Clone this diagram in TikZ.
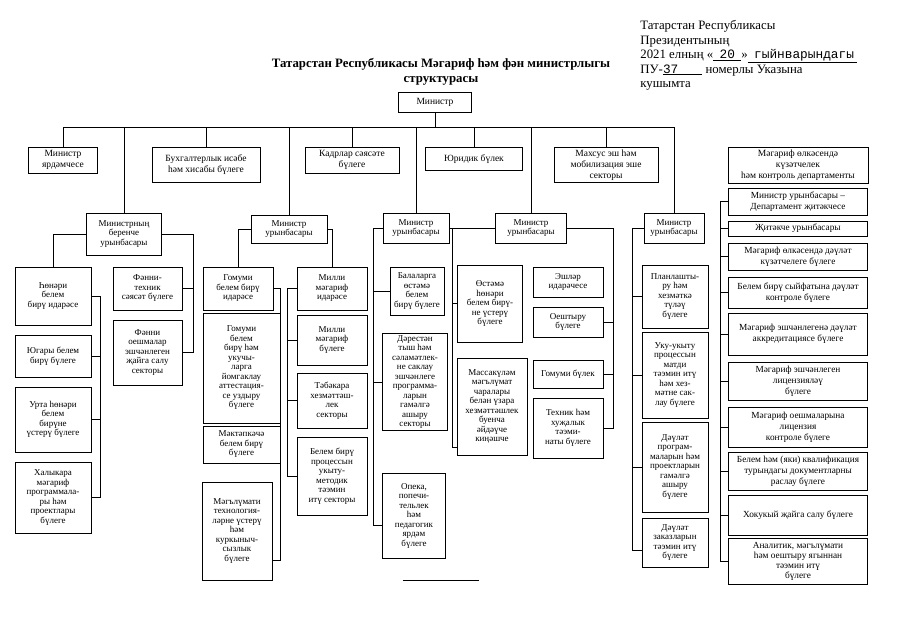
\documentclass[tikz,border=0pt]{standalone}
\usepackage{fontspec}
\setmainfont{Liberation Serif}
\newfontfamily\monofont{Liberation Mono}
\usetikzlibrary{positioning, calc}

\tikzset{
  blk/.style={draw, align=center, inner sep=1pt, font=\fontsize{9}{9.5}\selectfont},
  topblk/.style={blk, font=\fontsize{9.5}{11}\selectfont},
  depblk/.style={blk, font=\fontsize{9.3}{10.8}\selectfont, minimum width=139},
}

\begin{document}
\begin{tikzpicture}[x=1pt, y=-1pt, line width=0.85pt]
\useasboundingbox (0,0) rectangle (905,640);

% heading texts
\node[anchor=north west, align=left, inner sep=0pt, font=\fontsize{12.8}{14.5}\selectfont] (ukaz) at (640,20)
  {Татарстан Республикасы\\Президентының\\2021 елның «\underline{\ \ {\monofont 20}\ \ }»\underline{\ \ {\monofont гыйнварындагы}\ }\\ПУ-\underline{{\monofont 37}\hspace{24pt}} номерлы Указына\\кушымта};
\node[align=center, font=\bfseries\fontsize{12.8}{15.5}\selectfont] (title) at (441,72)
  {Татарстан Республикасы Мәгариф һәм фән министрлыгы\\структурасы};

\node[topblk, minimum width=73, minimum height=20] (min) at (435,102) {Министр};

% first row
\node[topblk, minimum width=69, minimum height=26] (yard) at (63,160) {Министр\\ярдәмчесе};
\node[topblk, minimum width=108, minimum height=35] (buh) at (206,165) {Бухгалтерлык исәбе\\һәм хисабы бүлеге};
\node[topblk, minimum width=94, minimum height=26] (kadr) at (352,160) {Кадрлар сәясәте\\бүлеге};
\node[topblk, minimum width=97, minimum height=23] (jur) at (474,159) {Юридик бүлек};
\node[topblk, minimum width=104, minimum height=35] (mahs) at (606,165) {Махсус эш һәм\\мобилизация эше\\секторы};
\node[topblk, minimum width=140, minimum height=36] (dept) at (798,165) {Мәгариф өлкәсендә\\күзәтчелек\\һәм контроль департаменты};

% deputies
\node[blk, minimum width=75, minimum height=42] (dep1) at (124,234) {Министрның\\беренче\\урынбасары};
\node[blk, minimum width=76, minimum height=28] (dep2) at (289,229) {Министр\\урынбасары};
\node[blk, minimum width=66, minimum height=30] (dep3) at (416,228) {Министр\\урынбасары};
\node[blk, minimum width=71, minimum height=30] (dep4) at (531,228) {Министр\\урынбасары};
\node[blk, minimum width=60, minimum height=30] (dep5) at (674,228) {Министр\\урынбасары};

\coordinate (bus) at (0,127);
\draw (min.south) -- (min.south |- bus);
\draw (yard.north) |- (dep5.north |- bus) -- (dep5.north);
\foreach \n in {buh,kadr,jur,mahs,dep1,dep2,dep3,dep4}
  \draw (\n.north) -- (\n.north |- bus);

% first deputy
\node[blk, minimum width=76, minimum height=58] (hon) at (53,296) {Һөнәри\\белем\\бирү идарәсе};
\node[blk, minimum width=76, minimum height=42] (yug) at (53,356) {Югары белем\\бирү бүлеге};
\node[blk, minimum width=76, minimum height=65] (urta) at (53,419.5) {Урта һөнәри\\белем\\бирүне\\үстерү бүлеге};
\node[blk, minimum width=76, minimum height=71] (hal) at (53,497.5) {Халыкара\\мәгариф\\программала-\\ры һәм\\проектлары\\бүлеге};
\node[blk, minimum width=69, minimum height=43] (ft) at (147.5,288.5) {Фәнни-\\техник\\сәясәт бүлеге};
\node[blk, minimum width=69, minimum height=65] (fo) at (147.5,352.5) {Фәнни\\оешмалар\\эшчәнлеген\\җайга салу\\секторы};

\coordinate (br1) at (100,0);
\coordinate (br2) at (193,0);
\draw (dep1.west) -| (hon.north);
\draw (hon.east) -- (hon.east -| br1) |- (hal.east);
\foreach \n in {yug,urta} \draw (\n.east) -- (\n.east -| br1);
\draw (dep1.east) -- (dep1.east -| br2) |- (fo.east);
\draw (ft.east) -- (ft.east -| br2);

% second deputy
\node[blk, minimum width=70, minimum height=43] (gom) at (238,288.5) {Гомуми\\белем бирү\\идарәсе};
\node[blk, minimum width=77, minimum height=110] (gomb) at (241.5,368) {Гомуми\\белем\\бирү һәм\\укучы-\\ларга\\йомгаклау\\аттестация-\\се уздыру\\бүлеге};
\node[blk, minimum width=77, minimum height=37] (mek) at (241.5,444.5) {Мәктәпкәчә\\белем бирү\\бүлеге};
\node[blk, minimum width=70, minimum height=98] (mgl) at (237,531) {Мәгълүмати\\технология-\\ләрне үстерү\\һәм\\куркыныч-\\сызлык\\бүлеге};
\node[blk, minimum width=70, minimum height=43] (mil) at (332,288.5) {Милли\\мәгариф\\идарәсе};
\node[blk, minimum width=70, minimum height=50] (milb) at (332,340) {Милли\\мәгариф\\бүлеге};
\node[blk, minimum width=70, minimum height=55] (teb) at (332,400.5) {Тәбәкара\\хезмәттәш-\\лек\\секторы};
\node[blk, minimum width=70, minimum height=78] (bbp) at (332,476) {Белем бирү\\процессын\\укыту-\\методик\\тәэмин\\итү секторы};

\coordinate (br3) at (280,0);
\coordinate (br4) at (287,0);
\draw (dep2.west) -| (gom.north);
\draw (gom.east) -- (gom.east -| br3) |- ([yshift=-29]mgl.east);
\draw (dep2.east) -| (mil.north);
\draw (mil.west) -- (mil.west -| br4) |- (bbp.west);
\foreach \n in {milb,teb} \draw (\n.west) -- (\n.west -| br4);

% third deputy
\node[blk, minimum width=54, minimum height=48] (bal) at (417,291) {Балаларга\\өстәмә\\белем\\бирү бүлеге};
\node[blk, minimum width=65, minimum height=97] (der) at (415,382) {Дәрестән\\тыш һәм\\сәламәтлек-\\не саклау\\эшчәнлеге\\программа-\\ларын\\гамәлгә\\ашыру\\секторы};
\node[blk, minimum width=63, minimum height=85] (opk) at (414,515.5) {Опека,\\попечи-\\тельлек\\һәм\\педагогик\\ярдәм\\бүлеге};

\coordinate (br5) at (373,0);
\draw (dep3.west) -- (dep3.west -| br5) |- ([yshift=-10]opk.west);
\foreach \n in {bal,der} \draw (\n.west) -- (\n.west -| br5);

% fourth deputy
\node[blk, minimum width=65, minimum height=77] (ost) at (490,303.5) {Өстәмә\\һөнәри\\белем бирү-\\не үстерү\\бүлеге};
\node[blk, minimum width=70, minimum height=97] (mas) at (492,406.5) {Массакүләм\\мәгълүмат\\чаралары\\белән үзара\\хезмәттәшлек\\буенча\\әйдәүче\\киңәшче};
\node[blk, minimum width=70, minimum height=30] (esh) at (568,282) {Эшләр\\идарәчесе};
\node[blk, minimum width=70, minimum height=30] (oes) at (568,322) {Оештыру\\бүлеге};
\node[blk, minimum width=70, minimum height=28] (gbl) at (568,374) {Гомуми бүлек};
\node[blk, minimum width=70, minimum height=60] (teh) at (568,428) {Техник һәм\\хуҗалык\\тәэми-\\наты бүлеге};

\coordinate (br6) at (452,228);
\coordinate (br7) at (613,0);
\draw (dep3.east) -- (dep4.west);
\draw (br6) |- ([yshift=-41]mas.west);
\draw (ost.west) -- (ost.west -| br6);
\draw (dep4.east) -- (dep4.east -| br7) |- (teh.east);
\foreach \n in {oes,gbl} \draw (\n.east) -- (\n.east -| br7);

% fifth deputy
\node[blk, minimum width=66, minimum height=63] (pln) at (675,296.5) {Планлашты-\\ру һәм\\хезмәткә\\түләү\\бүлеге};
\node[blk, minimum width=66, minimum height=86] (uku) at (675,375) {Уку-укыту\\процессын\\матди\\тәэмин итү\\һәм хез-\\мәтне сак-\\лау бүлеге};
\node[blk, minimum width=66, minimum height=90] (dpr) at (675,467) {Дәүләт\\програм-\\маларын һәм\\проектларын\\гамәлгә\\ашыру\\бүлеге};
\node[blk, minimum width=66, minimum height=49] (dzk) at (675,542.5) {Дәүләт\\заказларын\\тәэмин итү\\бүлеге};

\coordinate (br8) at (632,0);
\draw (dep5.west) -- (dep5.west -| br8) |- ([yshift=-8]dzk.west);
\foreach \n in {pln,uku,dpr} \draw (\n.west) -- (\n.west -| br8);

% department column
\node[depblk, minimum height=27] (r1) at (798,201.5) {Министр урынбасары –\\Департамент җитәкчесе};
\node[depblk, minimum height=15] (r2) at (798,228.5) {Җитәкче урынбасары};
\node[depblk, minimum height=27] (r3) at (798,256.5) {Мәгариф өлкәсендә дәүләт\\күзәтчелеге бүлеге};
\node[depblk, minimum height=31] (r4) at (798,292.5) {Белем бирү сыйфатына дәүләт\\контроле бүлеге};
\node[depblk, minimum height=42] (r5) at (798,334) {Мәгариф эшчәнлегенә дәүләт\\аккредитациясе бүлеге};
\node[depblk, minimum height=38] (r6) at (798,381) {Мәгариф эшчәнлеген\\лицензияләү\\бүлеге};
\node[depblk, minimum height=40] (r7) at (798,427) {Мәгариф оешмаларына\\лицензия\\контроле бүлеге};
\node[depblk, minimum height=38] (r8) at (798,471) {Белем һәм (яки) квалификация\\турындагы документларны\\раслау бүлеге};
\node[depblk, minimum height=40] (r9) at (798,515) {Хокукый җайга салу бүлеге};
\node[depblk, minimum height=46, font=\fontsize{9.3}{10}\selectfont] (r10) at (798,561) {Аналитик, мәгълүмати\\һәм оештыру ягыннан\\тәэмин итү\\бүлеге};

\coordinate (br9) at (720,0);
\draw (r1.west) -- (r1.west -| br9) |- (r10.west);
\foreach \n in {r2,r3,r4,r5,r6,r7,r8,r9} \draw (\n.west) -- (\n.west -| br9);

\draw (403,580) -- (479,580);
\end{tikzpicture}
\end{document}
